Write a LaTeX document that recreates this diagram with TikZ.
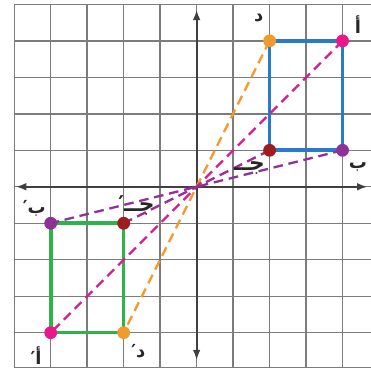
\documentclass[tikz,border=0pt]{standalone}
\usepackage{fontspec}
\newfontfamily\arabicfont[Script=Arabic,BoldFont={DejaVu Sans Bold}]{DejaVu Sans}
\TeXXeTstate=1
\usetikzlibrary{arrows.meta}
\definecolor{pinkc}{HTML}{E8188C}
\definecolor{orangec}{HTML}{F39A2C}
\definecolor{redc}{HTML}{9E1B1E}
\definecolor{purplec}{HTML}{8E3199}
\definecolor{bluec}{HTML}{2A7ACC}
\definecolor{greenc}{HTML}{2DB34A}
\definecolor{gridc}{HTML}{7C7C7C}
\tikzset{
  gridline/.style={draw=gridc, line width=1.1pt},
  axisline/.style={draw=black!75, line width=1.4pt, {Latex[length=8pt,width=6pt]}-{Latex[length=8pt,width=6pt]}},
  dashline/.style={line width=1.8pt, dash pattern=on 7.5pt off 4.5pt},
  rectline/.style={line width=2.8pt, line join=round},
  dot/.style={circle, fill=#1, inner sep=0pt, minimum size=10pt},
  lbl/.style={font=\arabicfont\bfseries\fontsize{14}{16}\selectfont, text=black!85, inner sep=1pt},
  lblbig/.style={font=\arabicfont\bfseries\fontsize{17}{19}\selectfont, text=black!85, inner sep=1pt}
}
\begin{document}
\begin{tikzpicture}[x=1cm,y=1cm]
\useasboundingbox (-5.39,-5.02) rectangle (4.78,5.12);
\fill[white] (-5.39,-5.02) rectangle (4.78,5.12);
% grid
\foreach \x in {-5,...,4} \draw[gridline] (\x,-4.95) -- (\x,5);
\foreach \y in {-4,...,5} \draw[gridline] (-5,\y) -- (4.78,\y);
\draw[gridline] (-5,-4.95) -- (4.78,-4.95);
% axes
\coordinate (xl) at (-4.95,0);
\coordinate (xr) at (4.68,0);
\coordinate (yt) at (0,4.85);
\coordinate (yb) at (0,-4.75);
\draw[axisline] (xl) -- (xr);
\draw[axisline] (yb) -- (yt);
% vertices
\coordinate (O) at (0,0);
\coordinate (A) at (4,4);
\coordinate (B) at (4,1);
\coordinate (C) at (2,1);
\coordinate (D) at (2,4);
\coordinate (Ap) at (-4,-4);
\coordinate (Bp) at (-4,-1);
\coordinate (Cp) at (-2,-1);
\coordinate (Dp) at (-2,-4);
% rectangles
\draw[rectline, bluec] (A) -- (B) -- (C) -- (D) -- cycle;
\draw[rectline, greenc] (Ap) -- (Bp) -- (Cp) -- (Dp) -- cycle;
% dashed lines through the origin
\draw[dashline, orangec] (D) -- (Dp);
\draw[dashline, pinkc!85!purplec] (A) -- (Ap);
\draw[dashline, purplec!80!pinkc] (C) -- (Cp);
\draw[dashline, purplec] (B) -- (Bp);
% dots
\node[dot=pinkc] (nA) at (A) {};
\node[dot=purplec] (nB) at (B) {};
\node[dot=redc] (nC) at (C) {};
\node[dot=orangec] (nD) at (D) {};
\node[dot=pinkc] (nAp) at (Ap) {};
\node[dot=purplec] (nBp) at (Bp) {};
\node[dot=redc] (nCp) at (Cp) {};
\node[dot=orangec] (nDp) at (Dp) {};
% labels
\node[lbl] (lA) at (4.42,4.45) {\beginR أ\endR};
\node[lbl] (lB) at (4.42,0.55) {\beginR ب\endR};
\node[lblbig] (lC) at (1.45,0.52) {\beginR جــ\endR};
\node[lbl] (lD) at (1.7,4.62) {\beginR د\endR};
\node[lbl] (lAp) at (-4.4,-4.62) {\beginR أ′\endR};
\node[lbl] (lBp) at (-4.45,-0.6) {\beginR ب′\endR};
\node[lblbig] (lCp) at (-1.65,-0.5) {\beginR جــ′\endR};
\node[lbl] (lDp) at (-1.6,-4.5) {\beginR د′\endR};
\end{tikzpicture}
\end{document}
